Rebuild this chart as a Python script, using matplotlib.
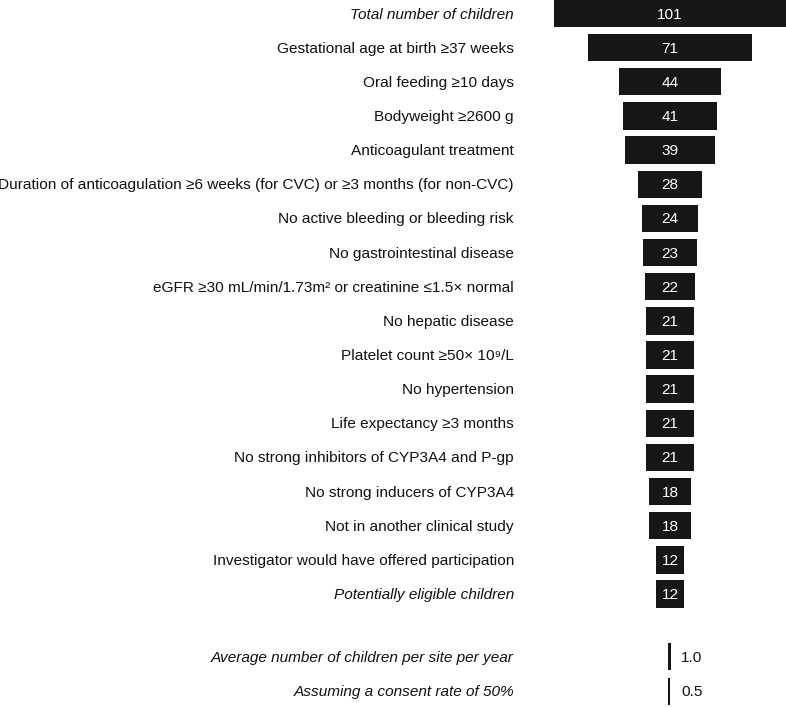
import matplotlib
matplotlib.use("Agg")
import matplotlib.pyplot as plt
import numpy as np

plt.rcParams['font.family'] = ['Liberation Sans', 'DejaVu Sans']

categories = [
    "Total number of children",
    "Gestational age at birth ≥37 weeks",
    "Oral feeding ≥10 days",
    "Bodyweight ≥2600 g",
    "Anticoagulant treatment",
    "Duration of anticoagulation ≥6 weeks (for CVC) or ≥3 months (for non-CVC)",
    "No active bleeding or bleeding risk",
    "No gastrointestinal disease",
    "eGFR ≥30 mL/min/1.73m² or creatinine ≤1.5× normal",
    "No hepatic disease",
    "Platelet count ≥50× 10⁹/L",
    "No hypertension",
    "Life expectancy ≥3 months",
    "No strong inhibitors of CYP3A4 and P-gp",
    "No strong inducers of CYP3A4",
    "Not in another clinical study",
    "Investigator would have offered participation",
    "Potentially eligible children",
]
values = [101, 71, 44, 41, 39, 28, 24, 23, 22, 21, 21, 21, 21, 21, 18, 18, 12, 12]
italic_rows = [0, 17]

rate_labels = ["Average number of children per site per year",
               "Assuming a consent rate of 50%"]
rate_values = [1.0, 0.5]

W, H = 786, 707
fig = plt.figure(figsize=(W / 100, H / 100), dpi=100)
ax = fig.add_axes([0, 0, 1, 1])

px_per_unit = 2.305
center_px = 670
row_px = 34.15
top_px = 13.5
ax.set_xlim(-center_px / px_per_unit, (W - center_px) / px_per_unit)
ax.set_ylim((H - top_px) / row_px, -top_px / row_px)
ax.axis('off')

bar_color = '#161616'
y_main = np.arange(len(values))
vals = np.array(values, dtype=float)
ax.barh(y_main, vals, left=-vals / 2, height=0.8, color=bar_color)

label_x = (514 - center_px) / px_per_unit
fs = 11.05
for i, (cat, v) in enumerate(zip(categories, values)):
    ax.text(label_x, i + 0.03, cat, ha='right', va='center', fontsize=fs,
            color='#111111', style='italic' if i in italic_rows else 'normal')
    ax.text(0, i + 0.03, str(v), ha='center', va='center', fontsize=fs, color='white')

y_rate = np.array([18.83, 19.85])
rv = np.array(rate_values)
ax.barh(y_rate, rv * 1.35, left=-0.75, height=0.8, color=bar_color)
for y, lab, v in zip(y_rate, rate_labels, rate_values):
    ax.text(label_x, y + 0.03, lab, ha='right', va='center', fontsize=fs,
            color='#111111', style='italic')
    ax.text((681 - center_px) / px_per_unit, y + 0.03, f"{v:.1f}", ha='left',
            va='center', fontsize=fs, color='#111111')

fig.savefig("out.png", dpi=100)
